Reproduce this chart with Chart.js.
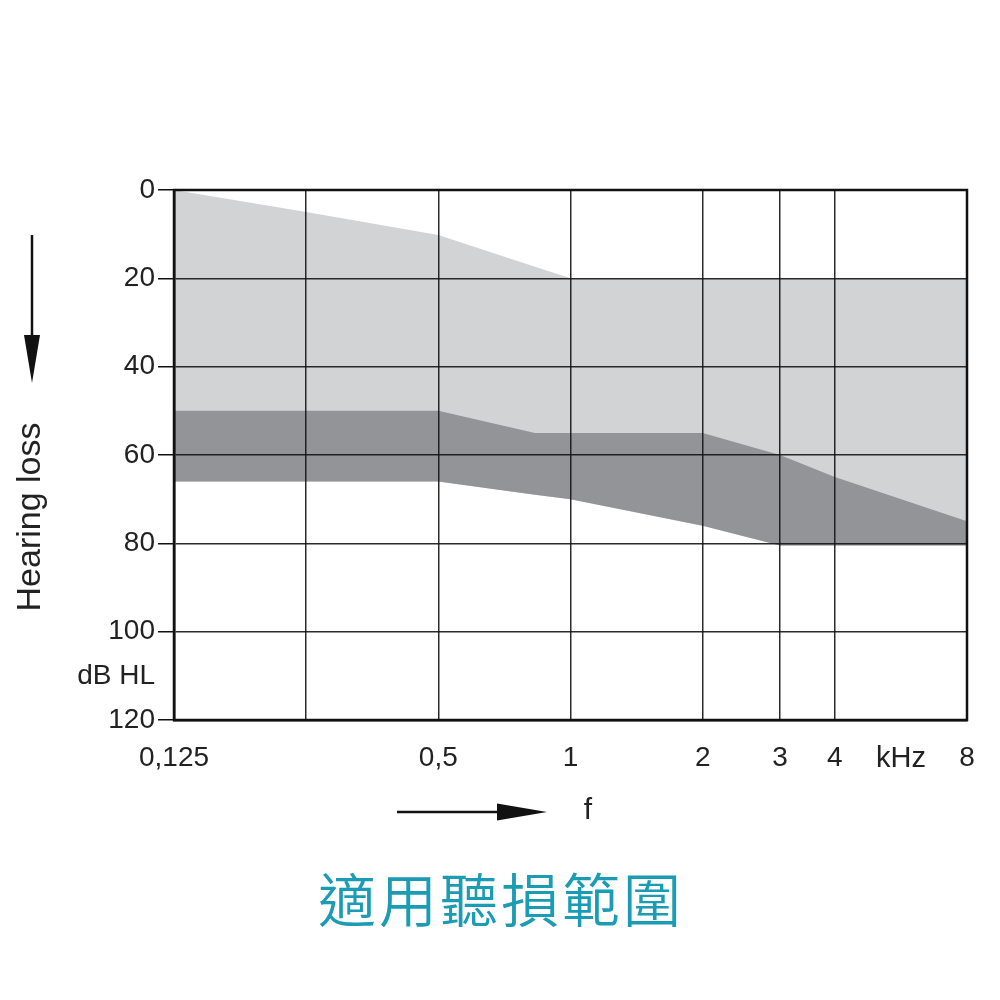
<!DOCTYPE html>
<html>
<head>
<meta charset="utf-8">
<script src="https://cdn.jsdelivr.net/npm/chart.js@4.4.1/dist/chart.umd.min.js"></script>
<style>
  html, body { margin: 0; padding: 0; background: #fff; }
  #wrap { width: 1000px; height: 1000px; }
</style>
</head>
<body>
<div id="wrap"><canvas id="audiogram" width="1000" height="1000"></canvas></div>
<script>
const freqs = [0.125, 0.25, 0.5, 0.83, 1, 2, 3, 4, 8];
const lightTop = [0, 5, 10.2, 17.4, 20, 20, 20, 20, 20];
const darkTop = [50, 50, 50, 55, 55, 55, 60, 65, 75];
const darkBottom = [66, 66, 66, 69, 70, 76, 80.5, 80.5, 80.5];

const xTicks = [0.125, 0.25, 0.5, 1, 2, 3, 4, 8];
const xTickLabels = ['0,125', '', '0,5', '1', '2', '3', '4', '8'];
const yTicks = [0, 20, 40, 60, 80, 100, 110, 120];
const yTickLabels = ['0', '20', '40', '60', '80', '100', 'dB HL', '120'];
const xUnit = 'kHz';
const xTitle = 'f';
const yTitle = 'Hearing loss';
const caption = '適用聽損範圍';

const gridColor = 'rgba(20,20,20,0.9)';
const textColor = '#222';
const font = "'Liberation Sans', Arial, sans-serif";

const toPoints = (ys) => freqs.map((f, i) => ({ x: f, y: ys[i] }));

function arrowHead(ctx, tipX, tipY, dir, len, half) {
  ctx.beginPath();
  if (dir === 'down') {
    ctx.moveTo(tipX, tipY);
    ctx.lineTo(tipX - half, tipY - len);
    ctx.lineTo(tipX + half, tipY - len);
  } else {
    ctx.moveTo(tipX, tipY);
    ctx.lineTo(tipX - len, tipY - half);
    ctx.lineTo(tipX - len, tipY + half);
  }
  ctx.closePath();
  ctx.fill();
}

const extras = {
  id: 'extras',
  afterDraw(chart) {
    const { ctx, chartArea: a, scales } = chart;
    ctx.save();
    ctx.strokeStyle = '#111';
    ctx.lineWidth = 2.5;
    ctx.strokeRect(a.left, a.top, a.right - a.left, a.bottom - a.top);

    ctx.fillStyle = textColor;
    ctx.font = `29px ${font}`;
    ctx.textAlign = 'center';
    ctx.textBaseline = 'middle';
    const kx = (scales.x.getPixelForValue(4) + scales.x.getPixelForValue(8)) / 2;
    ctx.fillText(xUnit, kx, a.bottom + 39);

    // hearing loss arrow + label
    ctx.fillStyle = '#111';
    ctx.strokeStyle = '#111';
    ctx.lineWidth = 2.5;
    ctx.beginPath();
    ctx.moveTo(32, 235);
    ctx.lineTo(32, 345);
    ctx.stroke();
    arrowHead(ctx, 32, 383, 'down', 48, 8);

    ctx.save();
    ctx.translate(31, 517);
    ctx.rotate(-Math.PI / 2);
    ctx.fillStyle = textColor;
    ctx.font = `34px ${font}`;
    ctx.fillText(yTitle, 0, 0);
    ctx.restore();

    // frequency arrow + label
    ctx.beginPath();
    ctx.moveTo(397, 812);
    ctx.lineTo(505, 812);
    ctx.stroke();
    arrowHead(ctx, 547, 812, 'right', 50, 8.5);
    ctx.fillStyle = textColor;
    ctx.font = `30px ${font}`;
    ctx.fillText(xTitle, 588, 811);

    ctx.fillStyle = '#1b9cb5';
    ctx.font = "350 58px 'Noto Sans CJK TC', sans-serif";
    ctx.letterSpacing = '3px';
    ctx.fillText(caption, 501, 900);
    ctx.restore();
  },
};

new Chart(document.getElementById('audiogram'), {
  type: 'line',
  data: {
    datasets: [
      {
        data: toPoints(darkTop),
        fill: '+1',
        backgroundColor: '#939498',
        borderWidth: 0,
        pointRadius: 0,
      },
      {
        data: toPoints(darkBottom),
        fill: false,
        borderWidth: 0,
        pointRadius: 0,
      },
      {
        data: toPoints(lightTop),
        fill: '-1',
        backgroundColor: '#d2d3d5',
        borderWidth: 0,
        pointRadius: 0,
      },
    ],
  },
  options: {
    responsive: false,
    animation: false,
    devicePixelRatio: 1,
    layout: { padding: { top: 190, right: 33, left: 0, bottom: 0 } },
    plugins: {
      legend: { display: false },
      tooltip: { enabled: false },
    },
    scales: {
      x: {
        type: 'logarithmic',
        min: 0.125,
        max: 8,
        z: 1,
        afterBuildTicks: (s) => { s.ticks = xTicks.map((v) => ({ value: v })); },
        afterFit: (s) => { s.height = 280; },
        border: { color: '#111', width: 2.5, z: 1 },
        grid: { color: gridColor, lineWidth: 1.5, drawTicks: false, z: 1 },
        ticks: {
          autoSkip: false,
          maxRotation: 0,
          padding: 21,
          color: textColor,
          font: { family: font, size: 28 },
          callback: (v, i) => xTickLabels[i],
        },
      },
      y: {
        min: 0,
        max: 120,
        reverse: true,
        z: 1,
        afterBuildTicks: (s) => { s.ticks = yTicks.map((v) => ({ value: v })); },
        afterFit: (s) => { s.width = 174; },
        border: { color: '#111', width: 2.5, z: 1 },
        grid: {
          z: 1,
          lineWidth: 1.5,
          tickLength: 16,
          color: (c) => (c.tick && c.tick.value % 20 === 0 ? gridColor : 'transparent'),
          tickColor: (c) => (c.tick && c.tick.value % 20 === 0 ? '#111' : 'transparent'),
        },
        ticks: {
          autoSkip: false,
          padding: 3,
          color: textColor,
          font: { family: font, size: 28 },
          callback: (v, i) => yTickLabels[i],
        },
      },
    },
  },
  plugins: [extras],
});
</script>
</body>
</html>
